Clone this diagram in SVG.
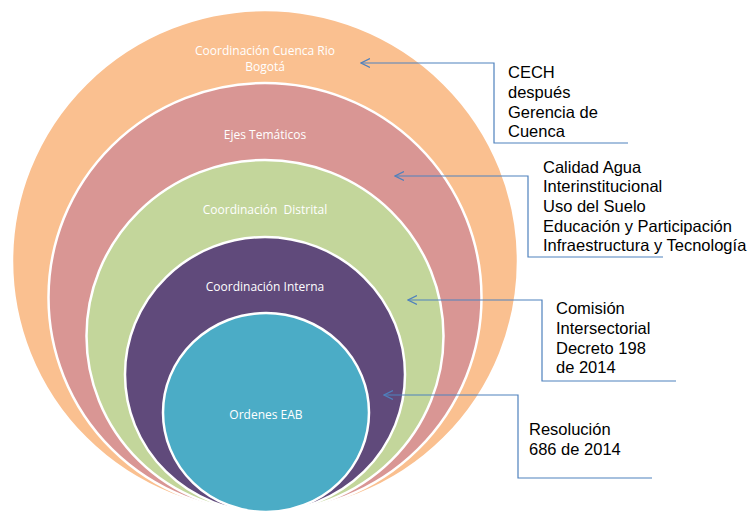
<svg xmlns="http://www.w3.org/2000/svg" width="750" height="514" viewBox="0 0 750 514">
<defs>
<style>
.ring{stroke:#ffffff;stroke-width:2.5}
.lbl{font-family:"Open Sans","Liberation Sans",sans-serif;font-size:12px;fill:#ffffff;text-anchor:middle}
.note{font-family:"Liberation Sans",Arial,sans-serif;font-size:16.5px;fill:#000000}
.conn{fill:none;stroke:#4F81BD;stroke-width:1.2}
</style>
<marker id="arr" viewBox="0 0 10 10" refX="9" refY="5" markerWidth="10" markerHeight="10" markerUnits="userSpaceOnUse" orient="auto">
<path d="M0,0.5 L9,5 L0,9.5" fill="none" stroke="#4F81BD" stroke-width="1.2"/>
</marker>
</defs>
<rect width="750" height="514" fill="#ffffff"/>
<g id="ring-cuenca">
<ellipse class="ring" cx="265" cy="261" rx="253" ry="251" fill="#FAC090"/>
<text class="lbl" x="265" y="55">Coordinación Cuenca Rio</text>
<text class="lbl" x="265" y="71">Bogotá</text>
</g>
<g id="ring-ejes">
<ellipse class="ring" cx="265" cy="297.5" rx="216.5" ry="214.5" fill="#D99694"/>
<text class="lbl" x="265" y="139">Ejes Temáticos</text>
</g>
<g id="ring-distrital">
<ellipse class="ring" cx="265" cy="336" rx="178.5" ry="176" fill="#C3D69B"/>
<text class="lbl" x="265" y="214" xml:space="preserve">Coordinación  Distrital</text>
</g>
<g id="ring-interna">
<ellipse class="ring" cx="265" cy="374.5" rx="140" ry="137.5" fill="#604A7B"/>
<text class="lbl" x="265" y="291">Coordinación Interna</text>
</g>
<g id="ring-eab">
<ellipse class="ring" cx="266" cy="412.5" rx="103" ry="99.5" fill="#4BACC6"/>
<text class="lbl" x="266" y="419">Ordenes EAB</text>
</g>
<g id="connectors">
<polyline class="conn" points="628,143 494,143 494,63 361,63" marker-end="url(#arr)"/>
<polyline class="conn" points="663,257 528,257 528,176 395,176" marker-end="url(#arr)"/>
<polyline class="conn" points="676,381 542,381 542,300 408,300" marker-end="url(#arr)"/>
<polyline class="conn" points="652,478 518,478 518,395 384,395" marker-end="url(#arr)"/>
</g>
<g id="note-cech">
<text class="note" x="508" y="78">CECH</text>
<text class="note" x="508" y="98">después</text>
<text class="note" x="508" y="118">Gerencia de</text>
<text class="note" x="508" y="137">Cuenca</text>
</g>
<g id="note-ejes">
<text class="note" x="543" y="173">Calidad Agua</text>
<text class="note" x="543" y="192">Interinstitucional</text>
<text class="note" x="543" y="212">Uso del Suelo</text>
<text class="note" x="543" y="232">Educación y Participación</text>
<text class="note" x="543" y="251">Infraestructura y Tecnología</text>
</g>
<g id="note-comision">
<text class="note" x="556" y="314">Comisión</text>
<text class="note" x="556" y="334">Intersectorial</text>
<text class="note" x="556" y="354">Decreto 198</text>
<text class="note" x="556" y="373">de 2014</text>
</g>
<g id="note-resolucion">
<text class="note" x="529" y="435">Resolución</text>
<text class="note" x="529" y="455">686 de 2014</text>
</g>
</svg>
